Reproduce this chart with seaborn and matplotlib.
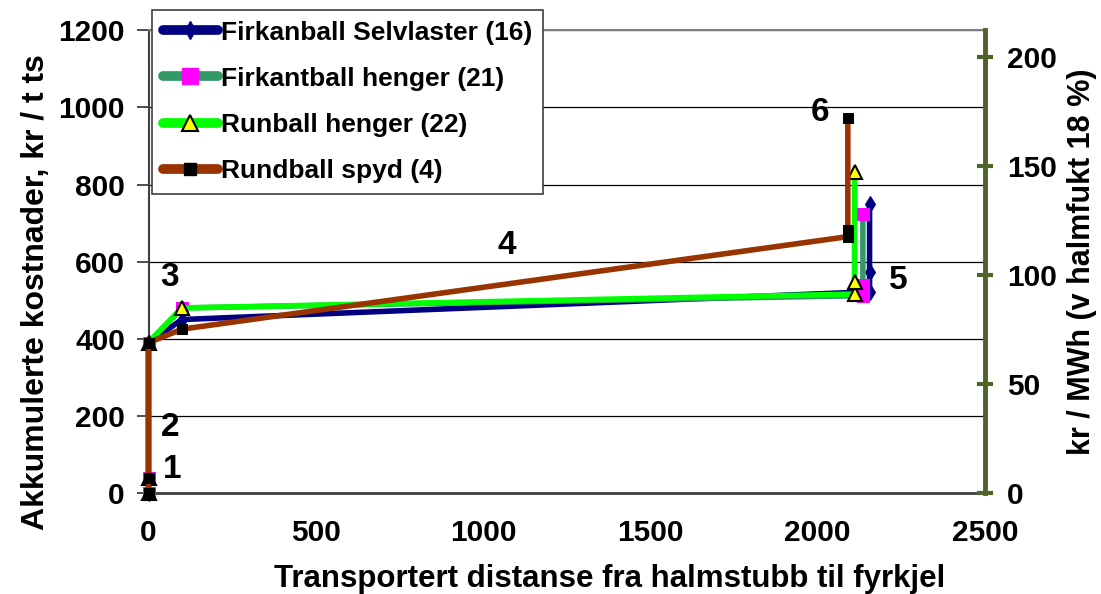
import matplotlib
matplotlib.use("Agg")
import matplotlib.pyplot as plt
from matplotlib.lines import Line2D
import seaborn as sns

# Accumulated cost (kr / t dry matter) along the chain, by transport distance (m)
dist_selvlaster = [0, 0, 0, 100, 2155, 2155, 2155]
kost_selvlaster = [0, 38, 390, 450, 522, 574, 750]

dist_firkant_henger = [0, 0, 0, 100, 2135, 2135, 2135]
kost_firkant_henger = [0, 38, 390, 480, 512, 540, 725]

dist_rund_henger = [0, 0, 0, 100, 2110, 2110, 2110]
kost_rund_henger = [0, 38, 390, 480, 516, 548, 833]

dist_spyd = [0, 0, 0, 100, 2090, 2090, 2090]
kost_spyd = [0, 38, 390, 425, 665, 682, 972]

series_names = ["Firkanball Selvlaster (16)", "Firkantball henger (21)",
                "Runball henger (22)", "Rundball spyd (4)"]

step_labels = ["1", "2", "3", "4", "5", "6"]
step_x = [70, 64, 64, 1072, 2241, 2008]
step_y = [60, 171, 558, 641, 550, 986]

x_ticks = [0, 500, 1000, 1500, 2000, 2500]
y_ticks = [0, 200, 400, 600, 800, 1000, 1200]
mwh_ticks = [0, 50, 100, 150, 200]
kr_per_mwh_factor = 5.655  # kr / t ts  ->  kr / MWh

sns.set_style("white")
plt.rcParams["font.family"] = ["Liberation Sans", "DejaVu Sans"]
plt.rcParams["font.weight"] = "bold"
plt.rcParams["text.color"] = "black"
plt.rcParams["axes.labelcolor"] = "black"

fig = plt.figure(figsize=(11.01, 5.94), dpi=100)
ax = fig.add_axes([148.5 / 1101, 1 - 493 / 594, (985 - 148.5) / 1101, (493 - 30.4) / 594])

olive = "#4F6228"
styles = [
    dict(color="#000080", marker="d", markerfacecolor="#000080", markeredgecolor="#000080", ms=8),
    dict(color="#339966", marker="s", markerfacecolor="#FF00FF", markeredgecolor="#FF00FF", ms=8),
    dict(color="#00FF00", marker="^", markerfacecolor="#FFFF00", markeredgecolor="black", ms=10,
         markeredgewidth=1.5),
    dict(color="#993300", marker="s", markerfacecolor="black", markeredgecolor="black", ms=7),
]
legend_ms = [9, 12, 11, 9]
data = [(dist_selvlaster, kost_selvlaster), (dist_firkant_henger, kost_firkant_henger),
        (dist_rund_henger, kost_rund_henger), (dist_spyd, kost_spyd)]

for (xs, ys), st, z in zip(data, styles, [3, 4, 5, 6]):
    sns.lineplot(x=xs, y=ys, sort=False, estimator=None, ax=ax, lw=4,
                 clip_on=False, zorder=z, **st)

ax.set_xlim(0, 2500)
ax.set_ylim(0, 1200)
ax.set_xticks(x_ticks)
ax.set_yticks(y_ticks)
ax.tick_params(axis="both", labelsize=21.5, direction="out", length=9, width=1.3,
               colors="#404040", labelcolor="black")
ax.tick_params(axis="x", pad=10)
ax.tick_params(axis="y", pad=8)
for lab in ax.get_xticklabels() + ax.get_yticklabels():
    lab.set_fontweight("bold")

ax.yaxis.grid(True, color="black", lw=0.9)
ax.set_axisbelow(True)
ax.spines["top"].set_color("#808080")
ax.spines["top"].set_linewidth(1.5)
ax.spines["left"].set_color("#404040")
ax.spines["left"].set_linewidth(1.5)
ax.spines["bottom"].set_color("#404040")
ax.spines["bottom"].set_linewidth(2)
ax.spines["right"].set_visible(False)

# Secondary axis in kr / MWh
ax2 = ax.twinx()
ax2.set_ylim(0, 1200 / kr_per_mwh_factor)
ax2.set_yticks(mwh_ticks)
ax2.tick_params(axis="y", labelsize=21.5, direction="inout", length=12, width=3,
                colors=olive, labelcolor="black", pad=10)
for lab in ax2.get_yticklabels():
    lab.set_fontweight("bold")
for side in ["top", "left", "bottom"]:
    ax2.spines[side].set_visible(False)
ax2.spines["right"].set_color(olive)
ax2.spines["right"].set_linewidth(3.5)
ax2.grid(False)

for t, xv, yv in zip(step_labels, step_x, step_y):
    ax.text(xv, yv, t, fontsize=24, fontweight="bold", ha="center", va="center", zorder=8)

fig.text(36 / 1101, 1 - 292 / 594, "Akkumulerte kostnader, kr / t ts", rotation=90,
         ha="center", va="center", fontsize=23, fontweight="bold")
fig.text(610 / 1101, 1 - 587 / 594, "Transportert distanse fra halmstubb til fyrkjel",
         ha="center", va="baseline", fontsize=22.5, fontweight="bold")
fig.text(1082 / 1101, 1 - 262 / 594, "kr / MWh (v halmfukt 18 %)", rotation=90,
         ha="center", va="center", fontsize=22, fontweight="bold")

handles = []
for st, lms in zip(styles, legend_ms):
    hst = dict(st)
    hst["ms"] = lms
    handles.append(Line2D([], [], lw=7, solid_capstyle="round", **hst))
leg = fig.legend(handles, series_names, loc="upper left",
                 bbox_to_anchor=(152 / 1101, 1 - 10 / 594), borderaxespad=0,
                 prop={"size": 19, "weight": "bold"}, frameon=True, fancybox=False,
                 framealpha=1, edgecolor="#404040", handlelength=2.1,
                 handletextpad=0.1, labelspacing=0.84, numpoints=1, borderpad=0.4)
leg.get_frame().set_linewidth(1.2)
leg.set_zorder(20)

fig.savefig("out.png", dpi=100)
